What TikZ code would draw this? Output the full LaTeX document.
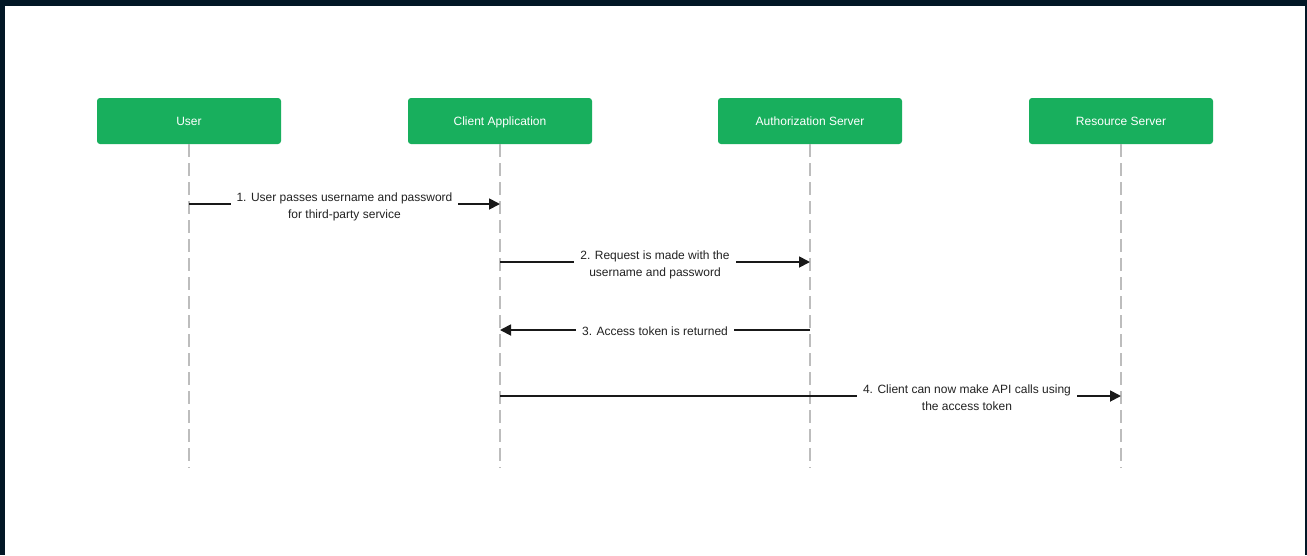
\documentclass[tikz,border=0pt]{standalone}
\usepackage{fontspec}
\setmainfont{Liberation Sans}
\usetikzlibrary{arrows.meta}
\definecolor{frame}{HTML}{021726}
\definecolor{actorgreen}{HTML}{18AF5D}
\definecolor{lifeline}{HTML}{BDBDBD}
\definecolor{msgtext}{HTML}{222222}
\begin{document}
\begin{tikzpicture}[x=1pt,y=-1pt,
  actor/.style={fill=actorgreen,rounded corners=3pt,minimum width=184pt,minimum height=46pt,
    inner sep=0pt,text=white,text height=8.6pt,text depth=0pt,font=\fontsize{12}{14}\selectfont},
  life/.style={draw=lifeline,line width=2pt,dash pattern=on 13pt off 6pt},
  msg/.style={draw=black!90,line width=1.8pt,-{Triangle[length=11pt,width=11pt]}},
  msglabel/.style={fill=white,text=msgtext,align=center,inner xsep=6pt,inner ysep=2pt,
    font=\fontsize{12}{17}\selectfont}]
  % frame and canvas
  \fill[frame] (0,0) rectangle (1307,555);
  \fill[white] (5,6) rectangle (1305,555);
  \useasboundingbox (0,0) rectangle (1307,555);

  % participants
  \node[actor] (user) at (189,121) {User};
  \node[actor] (client) at (500,121) {Client Application};
  \node[actor] (auth) at (810,121) {Authorization Server};
  \node[actor] (res) at (1121,121) {Resource Server};

  % lifeline ends
  \coordinate (userEnd) at (189,468);
  \coordinate (clientEnd) at (500,468);
  \coordinate (authEnd) at (810,468);
  \coordinate (resEnd) at (1121,468);

  \draw[life] (user.south) -- (userEnd);
  \draw[life] (client.south) -- (clientEnd);
  \draw[life] (auth.south) -- (authEnd);
  \draw[life] (res.south) -- (resEnd);

  % message anchor points on the lifelines
  \coordinate (m1a) at (189,204);
  \coordinate (m1b) at (500,204);
  \coordinate (m2a) at (500,262);
  \coordinate (m2b) at (810,262);
  \coordinate (m3a) at (810,330);
  \coordinate (m3b) at (500,330);
  \coordinate (m4a) at (500,396);
  \coordinate (m4b) at (1121,396);

  % messages
  \draw[msg] (m1a) -- node[msglabel,yshift=-3pt] (l1) {1. User passes username and password\\for third-party service} (m1b);
  \draw[msg] (m2a) -- node[msglabel,yshift=-3pt] (l2) {2. Request is made with the\\username and password} (m2b);
  \draw[msg] (m3a) -- node[msglabel,yshift=-1pt] (l3) {3. Access token is returned} (m3b);
  \draw[msg] (m4a) -- node[msglabel,pos=0.752,yshift=-2pt] (l4) {4. Client can now make API calls using\\the access token} (m4b);
\end{tikzpicture}
\end{document}
